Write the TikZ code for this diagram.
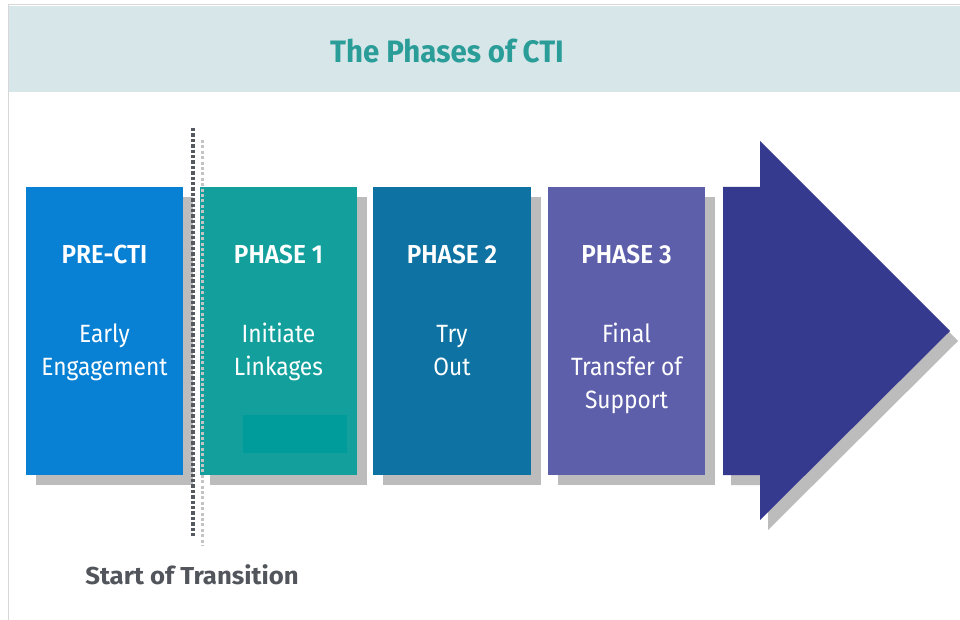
\documentclass[tikz,border=0pt]{standalone}
\usepackage{fontspec}
\setmainfont{Fira Sans}
\newfontfamily\condfont[FakeStretch=0.91]{Fira Sans}
\newfontfamily\condbold[FakeStretch=0.94]{Fira Sans SemiBold}
\newfontfamily\titlefont[FakeStretch=0.95]{Fira Sans Bold}
\newfontfamily\roundbold[FakeStretch=1.05]{Fira Sans Bold}
\definecolor{bandc}{RGB}{215,231,233}
\definecolor{titlec}{RGB}{42,157,153}
\definecolor{prec}{RGB}{8,128,212}
\definecolor{ph1c}{RGB}{19,160,157}
\definecolor{ph1in}{RGB}{0,155,155}
\definecolor{ph2c}{RGB}{14,114,162}
\definecolor{ph3c}{RGB}{93,95,170}
\definecolor{arrc}{RGB}{54,58,142}
\definecolor{shadc}{RGB}{188,188,188}
\definecolor{darkdot}{RGB}{85,90,96}
\definecolor{lightdot}{RGB}{195,195,195}
\definecolor{framec}{RGB}{215,215,215}
\definecolor{startc}{RGB}{82,86,92}
\begin{document}
\begin{tikzpicture}[x=1pt,y=-1pt,
  phasebox/.style={draw=none,minimum width=157pt,minimum height=288pt,inner sep=0pt,anchor=north west},
  shadowbox/.style={fill=shadc,draw=none},
  headtxt/.style={text=white,font=\condbold\fontsize{26}{30}\selectfont,anchor=base,inner sep=0pt},
  bodytxt/.style={text=white,font=\condfont\fontsize{25}{30}\selectfont,anchor=base,inner sep=0pt}]
\useasboundingbox (0,0) rectangle (960,620);
\fill[white] (0,0) rectangle (960,620);
% frame and title band
\fill[bandc] (8,6) rectangle (960,92);
\draw[framec,line width=1pt] (8,620) -- (8,5) -- (960,5);
\node[text=titlec,font=\titlefont\fontsize{31}{36}\selectfont,anchor=base,inner sep=0pt] (title) at (447,63) {The Phases of CTI};
% shadows
\fill[shadowbox] (36,197) rectangle (193,485);
\fill[shadowbox] (210,197) rectangle (367,485);
\fill[shadowbox] (383,197) rectangle (541,485);
\fill[shadowbox] (558,197) rectangle (715,485);
\fill[shadowbox] (731,197) -- (768,197) -- (768,151) -- (958,341) -- (768,530) -- (768,485) -- (731,485) -- cycle;
% boxes
\node[phasebox,fill=prec] (pre) at (26,187) {};
\node[phasebox,fill=ph1c] (p1) at (200,187) {};
\node[phasebox,fill=ph2c,minimum width=158pt] (p2) at (373,187) {};
\node[phasebox,fill=ph3c] (p3) at (548,187) {};
\fill[ph1in] (243,415) rectangle (347,453);
% arrow
\fill[arrc] (723,187) -- (760,187) -- (760,141) -- (950,331) -- (760,520) -- (760,475) -- (723,475) -- cycle;
% dotted transition line
\coordinate (d1a) at (202,140);
\coordinate (d1b) at (202,546);
\coordinate (d2a) at (193,128);
\coordinate (d2b) at (193,536);
\draw[lightdot,line width=3pt,dash pattern=on 3pt off 2.4pt] (d1a) -- (d1b);
\draw[darkdot,line width=3.4pt,dash pattern=on 3.4pt off 2pt] (d2a) -- (d2b);
% texts
\node[headtxt] (preh) at (104.5,263) {PRE-CTI};
\node[bodytxt] (pre1) at (104.5,342) {Early};
\node[bodytxt] (pre2) at (104.5,375) {Engagement};
\node[headtxt] (p1h) at (278.5,263) {PHASE 1};
\node[bodytxt] (p1a) at (278.5,342) {Initiate};
\node[bodytxt] (p1b) at (278.5,375) {Linkages};
\node[headtxt] (p2h) at (452,263) {PHASE 2};
\node[bodytxt] (p2a) at (452,342) {Try};
\node[bodytxt] (p2b) at (452,375) {Out};
\node[headtxt] (p3h) at (626.5,263) {PHASE 3};
\node[bodytxt] (p3a) at (626.5,342) {Final};
\node[bodytxt] (p3b) at (626.5,375) {Transfer of};
\node[bodytxt] (p3c) at (626.5,408) {Support};
\node[text=startc,font=\roundbold\fontsize{24.5}{28}\selectfont,anchor=base,inner sep=0pt] (start) at (192,584) {Start of Transition};
\end{tikzpicture}
\end{document}
